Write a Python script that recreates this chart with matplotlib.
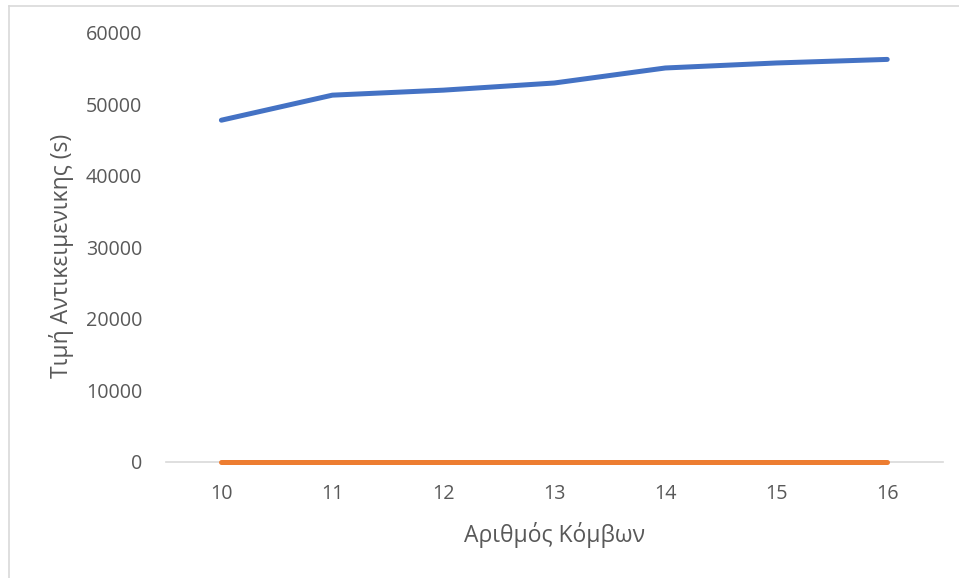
import matplotlib.pyplot as plt
from matplotlib.lines import Line2D

# data
nodes = [10, 11, 12, 13, 14, 15, 16]
objective = [47800, 51300, 52000, 53000, 55100, 55800, 56300]
second = [0, 0, 0, 0, 0, 0, 0]
yticks = [0, 10000, 20000, 30000, 40000, 50000, 60000]

plt.rcParams['font.family'] = ['Open Sans', 'DejaVu Sans']
text_color = '#595959'

fig = plt.figure(figsize=(9.59, 5.78), dpi=100)
ax = fig.add_axes([0.173, 0.2007, 0.81, 0.7423])

ax.plot(nodes, objective, color='#4472C4', linewidth=3.6, solid_capstyle='round')
ax.plot(nodes, second, color='#ED7D31', linewidth=3.6, solid_capstyle='round',
        zorder=3, clip_on=False)

ax.set_xlim(9.5, 16.5)
ax.set_ylim(0, 60000)
ax.set_xticks(nodes)
ax.set_yticks(yticks)
ax.tick_params(axis='both', length=0, labelsize=14.2, colors=text_color)
ax.tick_params(axis='x', pad=16)
ax.tick_params(axis='y', pad=17)

for side in ['top', 'right', 'left']:
    ax.spines[side].set_visible(False)
ax.spines['bottom'].set_color('#D9D9D9')
ax.spines['bottom'].set_linewidth(1.2)

ax.set_xlabel('Αριθμός Κόμβων', fontsize=16.5, color=text_color, labelpad=13)
ax.set_ylabel('Τιμή Αντικειμενικης (s)', fontsize=16.5, color=text_color)
ax.yaxis.set_label_coords(-0.118, 0.48)

# outer chart border (left and top edges visible)
fig.add_artist(Line2D([8.5 / 959, 8.5 / 959], [0, 1 - 5.5 / 578],
                      transform=fig.transFigure, color='#D9D9D9', linewidth=1.2))
fig.add_artist(Line2D([8.5 / 959, 1], [1 - 5.5 / 578, 1 - 5.5 / 578],
                      transform=fig.transFigure, color='#D9D9D9', linewidth=1.2))

fig.savefig('out.png', dpi=100, facecolor='white')
